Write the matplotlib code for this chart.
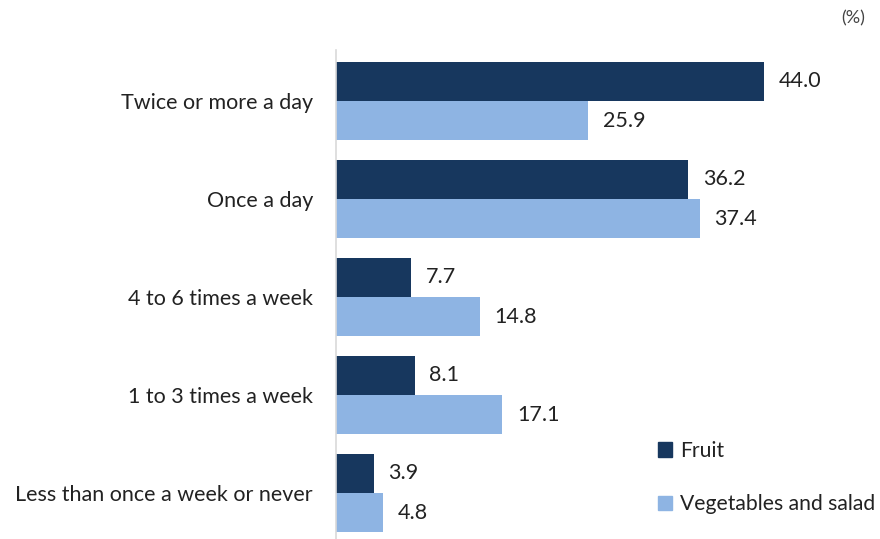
import matplotlib
matplotlib.use('Agg')
import matplotlib.pyplot as plt
import numpy as np
from matplotlib.patches import Patch

plt.rcParams['font.family'] = ['Lato', 'DejaVu Sans']

categories = ['Twice or more a day', 'Once a day', '4 to 6 times a week',
              '1 to 3 times a week', 'Less than once a week or never']
fruit = [44.0, 36.2, 7.7, 8.1, 3.9]
veg = [25.9, 37.4, 14.8, 17.1, 4.8]

fruit_color = '#17375E'
veg_color = '#8EB4E3'
fs = 15.5

fig = plt.figure(figsize=(8.8, 5.39), dpi=100)
ax = fig.add_axes([336/880, 0, 1 - 336/880, 1 - 50/539])

y = np.arange(len(categories))
h = 0.4
ax.barh(y - h/2, fruit, height=h, color=fruit_color)
ax.barh(y + h/2, veg, height=h, color=veg_color)

for i in range(len(categories)):
    ax.text(fruit[i] + 1.5, y[i] - h/2, '%.1f' % fruit[i], va='center', ha='left',
            fontsize=fs, color='#222222')
    ax.text(veg[i] + 1.5, y[i] + h/2, '%.1f' % veg[i], va='center', ha='left',
            fontsize=fs, color='#222222')

ax.set_xlim(0, 55.9)
ax.set_ylim(4.47, -0.52)
ax.set_yticks(y)
ax.set_yticklabels(categories, fontsize=fs, color='#222222')
ax.tick_params(axis='y', length=0, pad=16.5)
ax.set_xticks([])
for s in ['top', 'right', 'bottom']:
    ax.spines[s].set_visible(False)
ax.spines['left'].set_color('#D9D9D9')
ax.spines['left'].set_linewidth(1.2)

handles = [Patch(color=fruit_color, label='Fruit'),
           Patch(color=veg_color, label='Vegetables and salad')]
ax.legend(handles=handles, loc='lower left', bbox_to_anchor=(645/880, 12/539),
          bbox_transform=fig.transFigure, frameon=False, fontsize=15.2,
          handlelength=0.7, handleheight=0.7, handletextpad=0.35,
          labelspacing=1.6, borderaxespad=0.2, labelcolor='#222222')

fig.text(865/880, 1 - 18/539, '(%)', ha='right', va='center', fontsize=13,
         color='#444444')

plt.savefig('out.png', dpi=100)
plt.close()
